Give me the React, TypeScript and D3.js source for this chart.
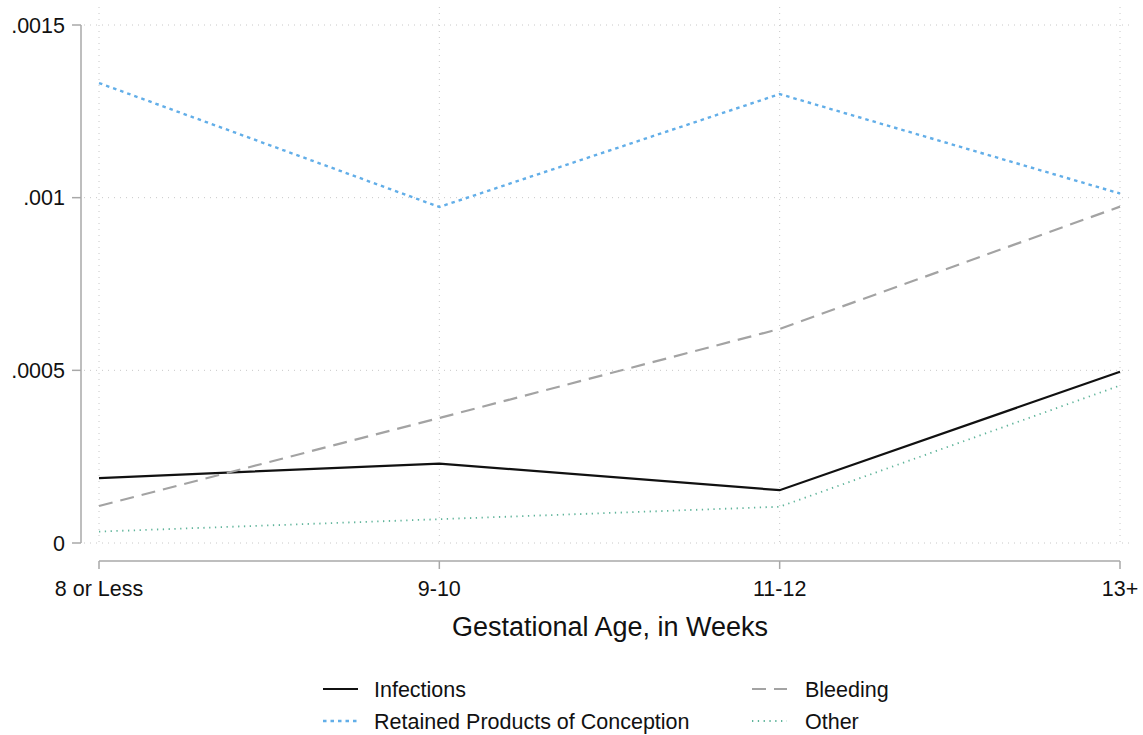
import React from "react";
import * as d3 from "d3";

const categories = ["8 or Less", "9-10", "11-12", "13+"];
const infections = [0.000188, 0.00023, 0.000153, 0.000496];
const bleeding = [0.000107, 0.000362, 0.00062, 0.000974];
const retained = [0.001332, 0.000973, 0.0013, 0.001012];
const other = [0.000033, 0.000069, 0.000105, 0.000456];
const yTicks = [0, 0.0005, 0.001, 0.0015];
const yTickLabels = ["0", ".0005", ".001", ".0015"];

const seriesList = [
  { name: "Infections", values: infections, color: "#111111", dash: "", width: 2.2 },
  { name: "Bleeding", values: bleeding, color: "#a3a3a3", dash: "14 8", width: 2.2 },
  { name: "Retained Products of Conception", values: retained, color: "#62aee8", dash: "3.5 4", width: 2.4 },
  { name: "Other", values: other, color: "#5fb49a", dash: "1.3 4.5", width: 1.8 },
];

const FONT = "'Liberation Sans', Arial, Helvetica, sans-serif";

export default function App() {
  const W = 1143, H = 735;
  const x = d3.scalePoint<string>().domain(categories).range([99, 1120]);
  const y = d3.scaleLinear().domain([0, 0.0015]).range([543, 25]);
  const line = d3
    .line<number>()
    .x((_, i) => x(categories[i]) as number)
    .y((d) => y(d));

  const legendItems = [
    { s: seriesList[0], kx: 323, tx: 374, ly: 689 },
    { s: seriesList[1], kx: 752, tx: 805, ly: 689 },
    { s: seriesList[2], kx: 323, tx: 374, ly: 721 },
    { s: seriesList[3], kx: 752, tx: 805, ly: 721 },
  ];

  return (
    <svg width={W} height={H} style={{ position: "absolute", left: 0, top: 0, background: "#fff" }} fontFamily={FONT}>
      <rect x={0} y={0} width={W} height={H} fill="#fff" />
      {/* grid */}
      {yTicks.map((t) => (
        <line key={"gy" + t} x1={84} x2={1133} y1={y(t)} y2={y(t)} stroke="#c8c8c8" strokeWidth={1} strokeDasharray="1 5" />
      ))}
      {categories.map((c) => (
        <line key={"gx" + c} x1={x(c)} x2={x(c)} y1={7} y2={547} stroke="#c8c8c8" strokeWidth={1} strokeDasharray="1 5" />
      ))}
      {/* y axis */}
      <line x1={81} x2={81} y1={y(0.0015)} y2={y(0)} stroke="#a8a8a8" strokeWidth={1.5} />
      {yTicks.map((t, i) => (
        <g key={"yt" + t}>
          <line x1={72} x2={81} y1={y(t)} y2={y(t)} stroke="#a8a8a8" strokeWidth={1.5} />
          <text x={65} y={y(t)} dy="0.35em" textAnchor="end" fontSize={21.5} fill="#111">
            {yTickLabels[i]}
          </text>
        </g>
      ))}
      {/* x axis */}
      <line x1={x(categories[0])} x2={x(categories[3])} y1={561} y2={561} stroke="#a8a8a8" strokeWidth={1.5} />
      {categories.map((c) => (
        <g key={"xt" + c}>
          <line x1={x(c)} x2={x(c)} y1={561} y2={569} stroke="#a8a8a8" strokeWidth={1.5} />
          <text x={x(c)} y={596} textAnchor="middle" fontSize={21.5} fill="#111">
            {c}
          </text>
        </g>
      ))}
      <text x={610} y={636} textAnchor="middle" fontSize={27} fill="#111">
        Gestational Age, in Weeks
      </text>
      {/* series */}
      {seriesList.map((s) => (
        <path key={s.name} d={line(s.values) || ""} fill="none" stroke={s.color} strokeWidth={s.width} strokeDasharray={s.dash} strokeLinejoin="miter" />
      ))}
      {/* legend */}
      {legendItems.map(({ s, kx, tx, ly }) => (
        <g key={"lg" + s.name}>
          <line x1={kx} x2={kx + 35} y1={ly} y2={ly} stroke={s.color} strokeWidth={s.width} strokeDasharray={s.dash} />
          <text x={tx} y={ly} dy="0.35em" fontSize={21.5} fill="#111">
            {s.name}
          </text>
        </g>
      ))}
    </svg>
  );
}
